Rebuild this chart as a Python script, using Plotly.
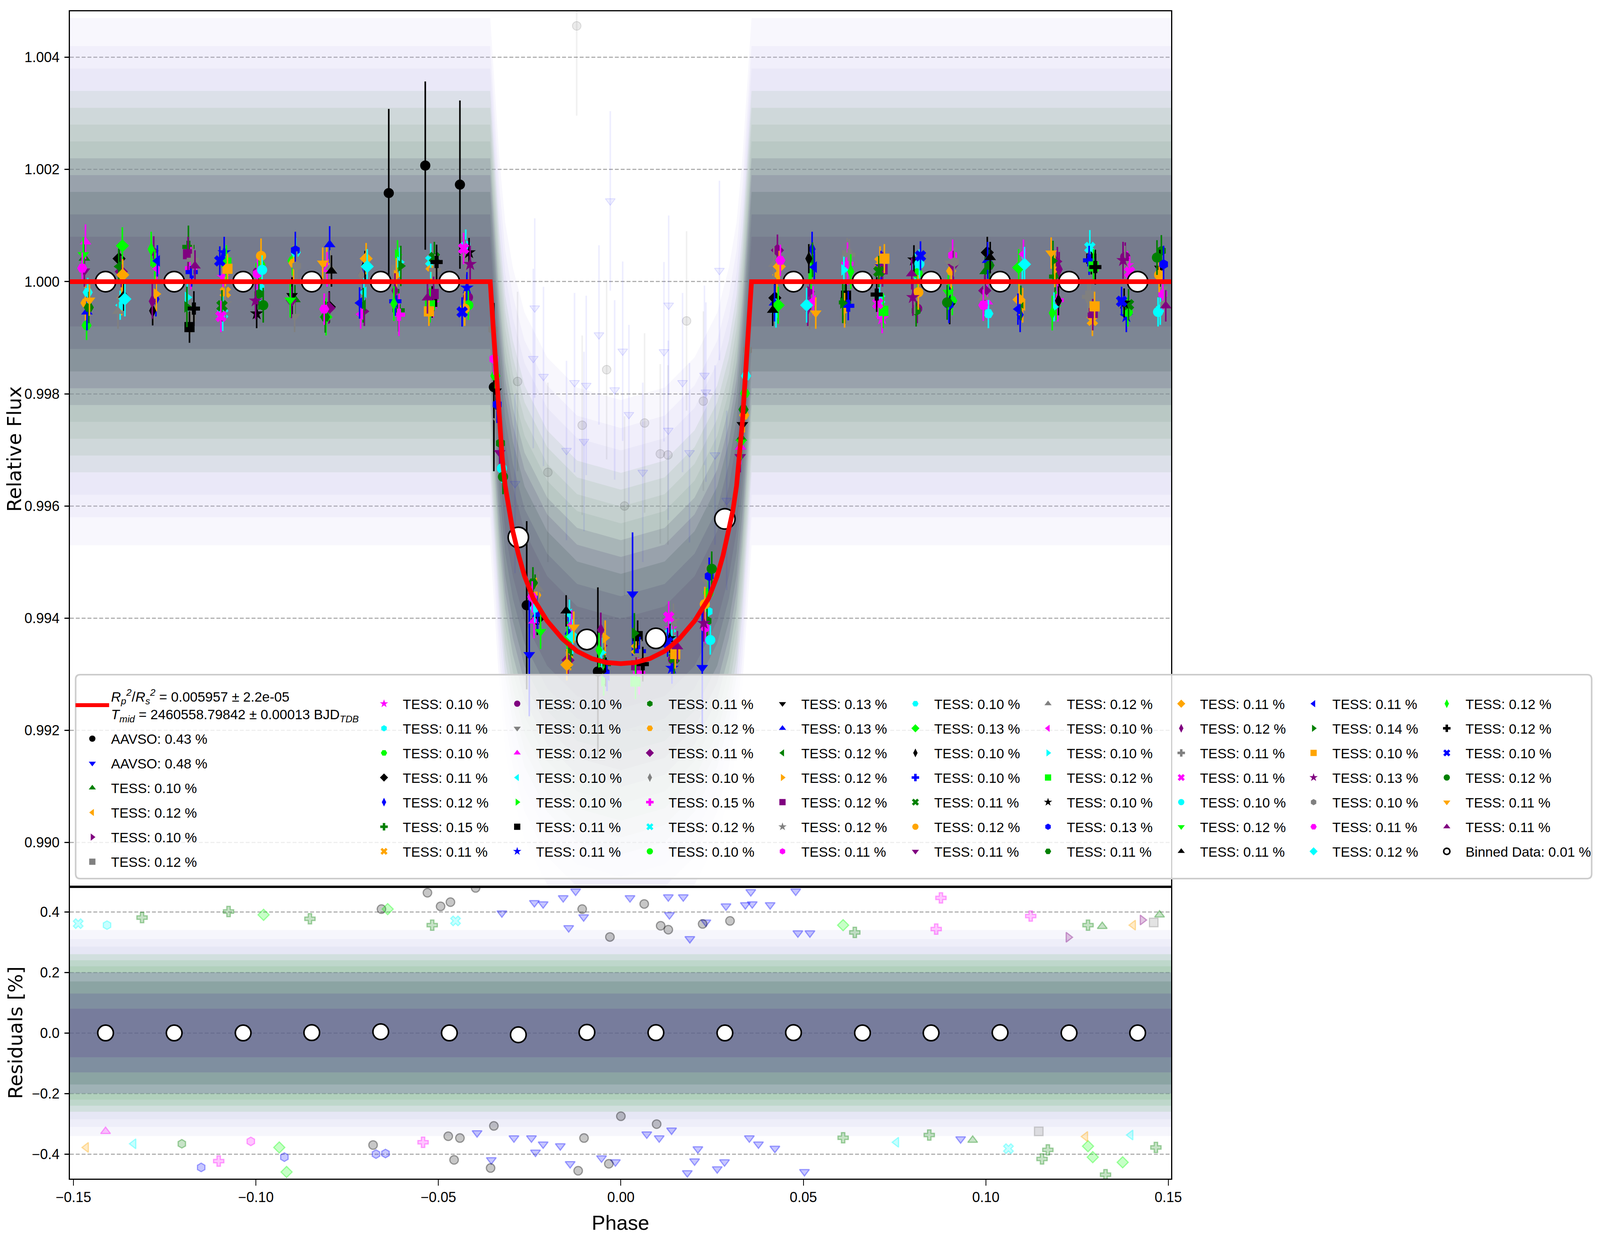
import plotly.graph_objects as go

# ---------------- data ----------------
MODEL_PHASE = [-0.151, -0.0358, -0.0352, -0.0346, -0.0340, -0.0333, -0.0325, -0.0317, -0.0307,
               -0.0296, -0.0280, -0.0264, -0.0240, -0.0202, -0.0160, -0.0120, -0.0080, -0.0040,
               0.0, 0.0040, 0.0080, 0.0120, 0.0160, 0.0202, 0.0240, 0.0264, 0.0280, 0.0296,
               0.0307, 0.0317, 0.0325, 0.0333, 0.0340, 0.0346, 0.0352, 0.0358, 0.151]
MODEL_FLUX = [1.0, 1.0, 0.9994, 0.9988, 0.9982, 0.9975, 0.99685, 0.99636, 0.99592,
              0.99555, 0.99512, 0.99475, 0.99435, 0.99395, 0.99363, 0.99341, 0.99328, 0.99321,
              0.99319, 0.99321, 0.99328, 0.99341, 0.99363, 0.99395, 0.99435, 0.99475, 0.99512, 0.99555,
              0.99592, 0.99636, 0.99685, 0.9975, 0.9982, 0.9988, 0.9994, 1.0, 1.0]

BIN_PHASE = [-0.1412, -0.1224, -0.1035, -0.0847, -0.0658, -0.0470, -0.0281, -0.0093,
             0.0096, 0.0285, 0.0473, 0.0662, 0.0850, 0.1039, 0.1228, 0.1416]
BIN_FLUX = [1.0, 1.0, 1.0, 1.0, 1.0, 1.0, 0.99544, 0.99362,
            0.99364, 0.99577, 1.0, 1.0, 1.0, 1.0, 1.0, 1.0]
BIN_RESID = [0.0, 0.0, 0.0, 0.001, 0.004, 0.0, -0.006, 0.002,
             0.001, 0.0, 0.001, 0.0, 0.0, 0.001, 0.0, 0.0]

FIT_LABEL = ("<i>R<sub>p</sub><sup>2</sup></i>/<i>R<sub>s</sub><sup>2</sup></i> = 0.005957 ± 2.2e-05<br>"
             "<i>T<sub>mid</sub></i> = 2460558.79842 ± 0.00013 BJD<sub><i>TDB</i></sub>")
BIN_LABEL = "Binned Data: 0.01 %"

AAVSO_LABELS = ["AAVSO: 0.43 %", "AAVSO: 0.48 %"]
AAVSO_PHASE = [[-0.0636, -0.0536, -0.0441, -0.0348, -0.0258, -0.0063],
               [-0.0251, 0.0032, 0.0223]]
AAVSO_FLUX = [[1.00158, 1.00207, 1.00173, 0.99812, 0.99423, 0.99305],
              [0.99335, 0.99443, 0.99312]]
AAVSO_ERR = [0.0015, 0.0011]

TESS_PREC = ["0.10", "0.12", "0.10", "0.12",
             "0.10", "0.11", "0.10", "0.11", "0.12", "0.15", "0.11",
             "0.10", "0.11", "0.12", "0.10", "0.10", "0.11", "0.11",
             "0.11", "0.12", "0.11", "0.10", "0.15", "0.12", "0.10",
             "0.13", "0.13", "0.12", "0.12", "0.12", "0.12", "0.11",
             "0.10", "0.13", "0.10", "0.10", "0.11", "0.12", "0.11",
             "0.12", "0.10", "0.10", "0.12", "0.10", "0.13", "0.11",
             "0.11", "0.12", "0.11", "0.11", "0.10", "0.12", "0.11",
             "0.11", "0.14", "0.10", "0.13", "0.10", "0.11", "0.12",
             "0.12", "0.12", "0.10", "0.12", "0.11", "0.11"]
TESS_ERR = [0.00026, 0.00031, 0.00026, 0.00031,
            0.00026, 0.00028, 0.00026, 0.00028, 0.00031, 0.00038, 0.00028,
            0.00026, 0.00028, 0.00031, 0.00026, 0.00026, 0.00028, 0.00028,
            0.00028, 0.00031, 0.00028, 0.00026, 0.00038, 0.00031, 0.00026,
            0.00033, 0.00033, 0.00031, 0.00031, 0.00031, 0.00031, 0.00028,
            0.00026, 0.00033, 0.00026, 0.00026, 0.00028, 0.00031, 0.00028,
            0.00031, 0.00026, 0.00026, 0.00031, 0.00026, 0.00033, 0.00028,
            0.00028, 0.00031, 0.00028, 0.00028, 0.00026, 0.00031, 0.00028,
            0.00028, 0.00036, 0.00026, 0.00033, 0.00026, 0.00028, 0.00031,
            0.00031, 0.00031, 0.00026, 0.00031, 0.00028, 0.00028]
TESS_PHASE = [
    [-0.1470, -0.0893, -0.0235, 0.0330, 0.0998],
    [-0.1368, -0.0806, -0.0138, 0.0428, 0.1101],
    [-0.1280, -0.0703, -0.0050, 0.0518, 0.1196],
    [-0.1179, -0.0615, 0.0049, 0.0620, 0.1286],
    [-0.1090, -0.0514, 0.0137, 0.0716, 0.1388],
    [-0.0989, -0.0425, 0.0239, 0.0806, 0.1478],
    [-0.0900, -0.0344, 0.0340, 0.0908, -0.1464],
    [-0.0799, -0.0229, 0.0422, 0.1004, -0.1375],
    [-0.0710, -0.0144, 0.0524, 0.1094, -0.1274],
    [-0.0609, -0.0044, 0.0614, 0.1190, -0.1185],
    [-0.0520, 0.0043, 0.0710, 0.1292, -0.1084],
    [-0.0419, 0.0143, 0.0812, 0.1382, -0.0995],
    [-0.0336, 0.0233, 0.0902, 0.1484, -0.0894],
    [-0.0238, 0.0328, 0.1004, -0.1467, -0.0805],
    [-0.0141, 0.0425, 0.1100, -0.1372, -0.0704],
    [-0.0047, 0.0521, 0.1193, -0.1277, -0.0612],
    [0.0046, 0.0617, 0.1289, -0.1182, -0.0517],
    [0.0140, 0.0713, 0.1385, -0.1087, -0.0422],
    [0.0236, 0.0809, 0.1481, -0.0992, -0.0330],
    [0.0338, 0.0905, -0.1467, -0.0897, -0.0232],
    [0.0429, 0.0997, -0.1369, -0.0800, -0.0145],
    [0.0517, 0.1093, -0.1281, -0.0711, -0.0051],
    [0.0621, 0.1197, -0.1178, -0.0608, 0.0050],
    [0.0709, 0.1285, -0.1091, -0.0521, 0.0136],
    [0.0813, 0.1389, -0.0988, -0.0418, 0.0240],
    [0.0901, 0.1477, -0.0901, -0.0342, 0.0333],
    [0.1005, -0.1463, -0.0798, -0.0228, 0.0421],
    [0.1096, -0.1376, -0.0706, -0.0138, 0.0525],
    [0.1189, -0.1273, -0.0615, -0.0043, 0.0613],
    [0.1293, -0.1186, -0.0513, 0.0042, 0.0717],
    [0.1381, -0.1083, -0.0426, 0.0144, 0.0805],
    [0.1485, -0.0996, -0.0348, 0.0232, 0.0909],
    [-0.1461, -0.0891, -0.0236, 0.0343, 0.1007],
    [-0.1366, -0.0808, -0.0147, 0.0431, 0.1090],
    [-0.1283, -0.0701, -0.0041, 0.0515, 0.1199],
    [-0.1176, -0.0618, 0.0052, 0.0623, 0.1283],
    [-0.1093, -0.0511, 0.0146, 0.0707, 0.1391],
    [-0.0986, -0.0428, 0.0230, 0.0815, 0.1475],
    [-0.0903, -0.0332, 0.0327, 0.0911, -0.1470],
    [-0.0796, -0.0226, 0.0419, 0.0995, -0.1378],
    [-0.0713, -0.0135, 0.0527, 0.1103, -0.1271],
    [-0.0606, -0.0053, 0.0611, 0.1187, -0.1188],
    [-0.0523, 0.0040, 0.0719, 0.1295, -0.1081],
    [-0.0416, 0.0134, 0.0803, 0.1379, -0.0998],
    [-0.0339, 0.0242, 0.0899, 0.1487, -0.0892],
    [-0.0241, 0.0336, 0.1010, -0.1458, -0.0810],
    [-0.0148, 0.0434, 0.1091, -0.1365, -0.0698],
    [-0.0055, 0.0512, 0.1201, -0.1284, -0.0619],
    [0.0055, 0.0626, 0.1280, -0.1173, -0.0509],
    [0.0131, 0.0704, 0.1394, -0.1096, -0.0431],
    [0.0245, 0.0818, 0.1472, -0.0983, -0.0326],
    [0.0330, 0.0897, -0.1473, -0.0906, -0.0220],
    [0.0416, 0.1012, -0.1362, -0.0793, -0.0150],
    [0.0530, 0.1088, -0.1270, -0.0716, -0.0038],
    [0.0608, 0.1184, -0.1189, -0.0603, 0.0037],
    [0.0722, 0.1298, -0.1078, -0.0526, 0.0149],
    [0.0800, 0.1376, -0.1001, -0.0413, 0.0227],
    [0.0914, 0.1490, -0.0888, -0.0351, 0.0347],
    [0.0993, -0.1476, -0.0813, -0.0243, 0.0437],
    [0.1106, -0.1359, -0.0695, -0.0132, 0.0509],
    [0.1182, -0.1287, -0.0622, -0.0060, 0.0630],
    [0.1300, -0.1170, -0.0505, 0.0060, 0.0701],
    [0.1372, -0.1099, -0.0435, 0.0128, 0.0821],
    [0.1469, -0.0980, -0.0323, 0.0249, 0.0894],
    [-0.1456, -0.0817, -0.0129, 0.0534, 0.1179],
    [-0.1167, -0.0530, 0.0155, 0.0797, 0.1493],
]
TESS_FLUX = [
    [1.00042, 0.99968, 0.99452, 0.99721, 1.00018],
    [0.99971, 1.00031, 0.99338, 1.00012, 0.99958],
    [1.00055, 0.99947, 0.99351, 0.99982, 1.00036],
    [0.99938, 1.00021, 0.99297, 1.00047, 0.99975],
    [1.00008, 0.99962, 0.99381, 0.99934, 1.00029],
    [0.99989, 1.00065, 0.99412, 1.00024, 0.99951],
    [1.00037, 0.99832, 0.99801, 0.99966, 0.99922],
    [0.99955, 0.99398, 0.99971, 1.00052, 1.00041],
    [1.00013, 0.99372, 1.00058, 0.99941, 0.99969],
    [0.99949, 0.99318, 0.99963, 1.00009, 1.00062],
    [1.00028, 0.99345, 1.00035, 0.99931, 0.99981],
    [0.99972, 0.99326, 0.99952, 1.00044, 1.00017],
    [0.99752, 0.99468, 1.00033, 0.99987, 0.99938],
    [0.99395, 0.99705, 0.99964, 1.00071, 1.00022],
    [0.99407, 0.99944, 1.00028, 0.99958, 0.99981],
    [0.99288, 1.00013, 0.99957, 1.00031, 1.00048],
    [0.99368, 0.99975, 1.00041, 0.99919, 0.99964],
    [0.99311, 1.00027, 0.99938, 1.00052, 0.99989],
    [0.99395, 0.99948, 1.00055, 0.99978, 0.99712],
    [0.99762, 1.00019, 0.99962, 1.00033, 0.99441],
    [1.00056, 0.99984, 1.00018, 0.99953, 0.99325],
    [0.99941, 1.00036, 0.99952, 1.00012, 0.99354],
    [1.00032, 0.99967, 1.00024, 0.99941, 0.99302],
    [0.99969, 1.00061, 0.99943, 1.00037, 0.99372],
    [1.00015, 0.99946, 1.00029, 0.99958, 0.99445],
    [0.99957, 1.00024, 0.99975, 0.99805, 0.99745],
    [1.00038, 0.99946, 1.00066, 0.99407, 0.99962],
    [0.99962, 1.00027, 0.99958, 0.99342, 1.00039],
    [1.00021, 0.99978, 1.00011, 0.99365, 0.99949],
    [0.99944, 1.00049, 0.99978, 0.99316, 1.00022],
    [1.00033, 0.99961, 1.00044, 0.99395, 0.99973],
    [0.99978, 1.00014, 0.99862, 0.99383, 1.00047],
    [0.99981, 1.00052, 0.99418, 0.99832, 0.99943],
    [1.00064, 0.99937, 0.99361, 0.99958, 1.00025],
    [0.99948, 1.00029, 0.99304, 1.00041, 0.99966],
    [1.00017, 0.99965, 0.99341, 0.99957, 1.00038],
    [0.99957, 1.00043, 0.99329, 1.00018, 0.99959],
    [1.00046, 0.99952, 0.99425, 0.99981, 1.00012],
    [0.99963, 0.99695, 0.99688, 1.00027, 1.00019],
    [1.00025, 0.99452, 1.00031, 0.99972, 0.99947],
    [0.99942, 0.99388, 0.99966, 1.00049, 1.00023],
    [1.00035, 0.99339, 1.00021, 0.99955, 0.99972],
    [0.99958, 0.99287, 0.99948, 1.00027, 1.00034],
    [1.00052, 0.99364, 1.00039, 0.99962, 0.99943],
    [0.99781, 0.99475, 0.99959, 1.00031, 1.00056],
    [0.99463, 0.99772, 1.00029, 0.99954, 0.99937],
    [0.99317, 1.00027, 0.99968, 1.00012, 1.00041],
    [0.99379, 0.99952, 1.00022, 0.99965, 0.99984],
    [0.99334, 1.00048, 0.99973, 1.00039, 1.00021],
    [0.99402, 0.99961, 1.00017, 0.99938, 1.00059],
    [0.99361, 1.00032, 0.99946, 1.00021, 0.99667],
    [0.99714, 0.99981, 1.00048, 0.99967, 0.99376],
    [0.99949, 1.00043, 0.99976, 1.00019, 0.99413],
    [1.00026, 0.99951, 1.00037, 0.99962, 0.99298],
    [0.99962, 1.00037, 0.99955, 1.00028, 0.99373],
    [1.00041, 0.99956, 1.00023, 0.99947, 0.99336],
    [0.99972, 1.00038, 0.99966, 1.00031, 0.99391],
    [1.00035, 0.99959, 1.00028, 0.99915, 0.99878],
    [0.99958, 1.00024, 0.99951, 0.99438, 1.00038],
    [1.00031, 0.99969, 1.00027, 0.99367, 0.99958],
    [0.99944, 1.00058, 0.99961, 0.99343, 1.00018],
    [1.00026, 0.99952, 1.00035, 0.99318, 0.99977],
    [0.99965, 1.00037, 0.99946, 0.99357, 1.00046],
    [1.00043, 0.99958, 0.99652, 0.99488, 0.99963],
    [0.99967, 1.00033, 0.99384, 0.99944, 1.00051],
    [1.00028, 0.99971, 0.99349, 1.00014, 0.99957],
]

# faint unbinned AAVSO points visible above the transit
RAW_A1_PHASE = [-0.0039, -0.0283, 0.0065, -0.0106, 0.0226, 0.0108, 0.0129, -0.0121, -0.0200, 0.0180, 0.0010]
RAW_A1_FLUX = [0.99843, 0.99822, 0.99748, 0.99744, 0.99787, 0.99693, 0.99691, 1.00456, 0.99660, 0.99930, 0.99600]
RAW_A2_PHASE = [-0.0240, -0.0212, -0.0127, -0.0095, -0.0017, 0.0022, 0.0130, 0.0169, 0.0233, 0.0188, 0.0258,
                -0.0149, -0.0101, 0.0118, 0.0131, -0.0029, 0.0005, -0.0236, 0.0229, 0.0290, -0.0290,
                0.0060, -0.0060, 0.0270]
RAW_A2_FLUX = [0.99863, 0.99831, 0.99820, 0.99815, 0.99807, 0.99763, 0.99735, 0.99820, 0.99803, 0.99695, 0.99691,
               0.99699, 0.99715, 0.99875, 0.99958, 1.00144, 0.99876, 0.99953, 0.99833, 0.99610, 0.99640,
               0.99660, 0.99905, 1.00020]
RAW_ERR = 0.0016

# dense cloud of unbinned points (top panel): centre line and scatter widths
BAND_X = [-0.151, -0.0358, -0.0346, -0.0333, -0.0317, -0.0296, -0.0264, -0.0202, -0.0120, 0.0,
          0.0120, 0.0202, 0.0264, 0.0296, 0.0317, 0.0333, 0.0346, 0.0358, 0.151]
BAND_CENTER = [1.0, 1.0, 0.9988, 0.9975, 0.99636, 0.99555, 0.99475, 0.99395, 0.99341, 0.99319,
               0.99341, 0.99395, 0.99475, 0.99555, 0.99636, 0.9975, 0.9988, 1.0, 1.0]
CLOUD_SPREAD = [0.0047, 0.0042, 0.0038, 0.0034, 0.0031, 0.0028, 0.0025, 0.0022, 0.0019, 0.0016,
                0.0012, 0.0008]

# residual cloud (percent)
RES_X = [-0.151, 0.151]
RES_CENTER = [0.0, 0.0]
RES_SPREAD = [0.34, 0.31, 0.285, 0.26, 0.24, 0.22, 0.20, 0.17, 0.13, 0.08]

# isolated residual points outside the dense band
RES_PT_PHASE = [
    -0.1487, -0.1408, -0.1312, -0.1075, -0.0979, -0.0852, -0.0656, -0.0639, -0.0530, -0.0494,
    -0.0453, -0.0517, -0.1465, -0.1412, -0.1335, -0.1203, -0.1150, -0.1102, -0.1014, -0.0936,
    -0.0922, -0.0916, -0.0679, -0.0671, -0.0645, -0.0542,
    -0.0124, -0.0237, -0.0213, -0.0158, -0.0326, -0.0143, -0.0102, 0.0025, 0.0130, 0.0171,
    0.0133, 0.0288, 0.0341, 0.0360, 0.0409, 0.0356, 0.0479, 0.0485, 0.0518, 0.0189, 0.0233,
    -0.0394, -0.0293, -0.0245, -0.0234, -0.0213, -0.0166, -0.0355, -0.0139, -0.0053, -0.0015,
    0.0071, 0.0105, 0.0139, 0.0211, 0.0202, 0.0264, 0.0284, 0.0352, 0.0377, 0.0422, 0.0503, 0.0182,
    -0.0467, -0.0398, -0.0106, 0.0064, 0.0109, 0.0130, 0.0224, 0.0299, -0.0030,
    -0.0348, -0.0473, -0.0441, -0.0457, -0.0357, -0.0033, -0.0117, -0.0101, 0.0000, 0.0098,
    0.0877, 0.1123, 0.0864, 0.0609, 0.0641, 0.1476, 0.1429, 0.1460, 0.1404, 0.1226,
    0.1280, 0.1319, 0.1154, 0.1170, 0.1293, 0.1375, 0.1328, 0.1280, 0.1466, 0.1062,
    0.0755, 0.0845, 0.0609, 0.0964, 0.1273, 0.1145, 0.1397, 0.0931]
RES_PT_VALUE = [
    0.361, 0.356, 0.381, 0.401, 0.390, 0.377, 0.409, 0.409, 0.463, 0.418,
    0.370, 0.356, -0.378, -0.325, -0.366, -0.366, -0.444, -0.423, -0.358, -0.378,
    -0.410, -0.459, -0.370, -0.400, -0.398, -0.361,
    0.468, 0.430, 0.426, 0.446, 0.396, 0.347, 0.383, 0.446, 0.449, 0.449,
    0.390, 0.419, 0.423, 0.426, 0.423, 0.466, 0.468, 0.330, 0.330, 0.311, 0.366,
    -0.330, -0.347, -0.347, -0.394, -0.367, -0.373, -0.419, -0.432, -0.413, -0.426,
    -0.334, -0.347, -0.321, -0.383, -0.423, -0.449, -0.426, -0.347, -0.367, -0.381, -0.458, -0.462,
    0.432, 0.479, 0.409, 0.426, 0.354, 0.341, 0.360, 0.370, 0.317,
    -0.307, -0.341, -0.347, -0.419, -0.446, -0.432, -0.455, -0.347, -0.275, -0.301,
    0.446, 0.386, 0.343, 0.356, 0.332, 0.390, 0.373, 0.365, 0.356, 0.316,
    0.356, 0.352, -0.416, -0.386, -0.410, -0.427, -0.468, -0.374, -0.378, -0.382,
    -0.361, -0.337, -0.346, -0.354, -0.342, -0.325, -0.337, -0.350]
RES_PT_SET = [
    25, 7, 11, 11, 35, 11, 0, 35, 0, 0,
    25, 11, 3, 15, 16, 20, 46, 24, 33, 35,
    46, 35, 0, 46, 46, 24,
    1, 1, 1, 1, 1, 1, 1, 1, 1, 1,
    1, 1, 1, 1, 1, 1, 1, 1, 1, 1, 1,
    1, 1, 1, 1, 1, 1, 1, 1, 1, 1,
    1, 1, 1, 1, 1, 1, 1, 1, 1, 1, 1, 1,
    0, 0, 0, 0, 0, 0, 0, 0, 0,
    0, 0, 0, 0, 0, 0, 0, 0, 0, 0,
    24, 24, 24, 35, 11, 2, 4, 5, 3, 4,
    11, 2, 11, 11, 35, 35, 11, 35, 11, 25,
    16, 11, 11, 2, 3, 5, 16, 1]

# ---------------- styles / geometry ----------------
COLOR_CYCLE = [(0, 0, 0), (0, 0, 255), (0, 128, 0), (255, 165, 0), (128, 0, 128),
               (128, 128, 128), (255, 0, 255), (0, 255, 255), (0, 255, 0)]
SYMBOL_CYCLE = ['circle', 'triangle-down', 'triangle-up', 'triangle-left', 'triangle-right', 'square',
                'star', 'hexagon', 'hexagon2', 'diamond', 'diamond-tall', 'cross', 'x']
CLOUD_COLORS = ['rgba(195,185,238,0.11)', 'rgba(190,180,235,0.11)', 'rgba(180,185,225,0.11)',
                'rgba(135,170,135,0.13)', 'rgba(120,160,125,0.13)', 'rgba(120,155,130,0.13)',
                'rgba(115,145,130,0.13)', 'rgba(95,95,125,0.18)', 'rgba(90,80,125,0.19)',
                'rgba(70,95,95,0.20)', 'rgba(85,80,120,0.20)', 'rgba(90,80,110,0.18)']
RES_COLORS = ['rgba(185,185,232,0.12)', 'rgba(180,185,228,0.12)', 'rgba(170,180,220,0.12)',
              'rgba(105,185,115,0.17)', 'rgba(100,180,110,0.17)', 'rgba(110,175,120,0.17)',
              'rgba(90,60,160,0.20)', 'rgba(60,110,90,0.20)', 'rgba(80,60,150,0.20)',
              'rgba(90,50,140,0.20)']

SANS = "Liberation Sans, Arial, sans-serif"
REGULAR = "DejaVu Sans"

REF_W, REF_H = 5754, 3192          # reference picture
SCR_W, SCR_H = 4096, 3192          # browser viewport
OFF = 8                            # body margin of the page
FW, FH = SCR_W - 2 * OFF, SCR_H - 2 * OFF
SX = SCR_W / REF_W


def pxx(ref_x):
    return (ref_x * SX - OFF) / FW


def pxy(ref_y):
    return 1 - (ref_y - OFF) / FH


def rgb(c, a=1.0):
    return f"rgba({c[0]},{c[1]},{c[2]},{a})"


LEG_FONT = 35
LEG_MARK_REF = [332, 1381, 1860, 2337, 2814, 3292, 3769, 4248, 4724, 5203]
LEG_TOP_FIG = [1745] + [1764] * 9
MARK_OFF = 48
ITEMW = 2 * MARK_OFF - 10
ROW_GAP = 63 - (LEG_FONT * 1.3 + 3)


def leg_name(col):
    return "legend" if col == 0 else f"legend{col + 1}"


fig = go.Figure()


def band(xs, center, w, color, xa, ya):
    hi = [c + w for c in center]
    lo = [c - w for c in center]
    fig.add_trace(go.Scatter(x=list(xs) + list(xs)[::-1], y=hi + lo[::-1],
                             fill='toself', fillcolor=color, line=dict(width=0),
                             mode='lines', showlegend=False, hoverinfo='skip', xaxis=xa, yaxis=ya))


# top panel cloud
for w, col in zip(CLOUD_SPREAD, CLOUD_COLORS):
    band(BAND_X, BAND_CENTER, w, col, 'x', 'y')

# faint raw AAVSO points
fig.add_trace(go.Scatter(x=RAW_A1_PHASE, y=RAW_A1_FLUX, mode='markers',
                         marker=dict(symbol='circle', size=22, color='rgba(0,0,0,0.08)',
                                     line=dict(color='rgba(0,0,0,0.12)', width=2)),
                         error_y=dict(type='constant', value=RAW_ERR, color='rgba(0,0,0,0.06)',
                                      thickness=4, width=0),
                         showlegend=False, hoverinfo='skip', xaxis='x', yaxis='y'))
fig.add_trace(go.Scatter(x=RAW_A2_PHASE, y=RAW_A2_FLUX, mode='markers',
                         marker=dict(symbol='triangle-down', size=22, color='rgba(0,0,255,0.06)',
                                     line=dict(color='rgba(0,0,255,0.12)', width=2)),
                         error_y=dict(type='constant', value=RAW_ERR, color='rgba(0,0,255,0.07)',
                                      thickness=4, width=0),
                         showlegend=False, hoverinfo='skip', xaxis='x', yaxis='y'))

# residual panel cloud
for w, col in zip(RES_SPREAD, RES_COLORS):
    band(RES_X, RES_CENTER, w, col, 'x2', 'y2')

fig.add_trace(go.Scatter(
    x=RES_PT_PHASE, y=RES_PT_VALUE, mode='markers',
    marker=dict(symbol=[SYMBOL_CYCLE[s % 13] for s in RES_PT_SET], size=22,
                color=[rgb(COLOR_CYCLE[s % 9], 0.22) for s in RES_PT_SET],
                line=dict(color=[rgb(COLOR_CYCLE[s % 9], 0.35) for s in RES_PT_SET], width=3)),
    showlegend=False, hoverinfo='skip', xaxis='x2', yaxis='y2'))

# per-dataset binned points
labels = AAVSO_LABELS + [f"TESS: {p} %" for p in TESS_PREC]
phases = AAVSO_PHASE + TESS_PHASE
fluxes = AAVSO_FLUX + TESS_FLUX
errs = AAVSO_ERR + TESS_ERR
for i, (lab, ph, fl, er) in enumerate(zip(labels, phases, fluxes, errs)):
    col = (i + 1) // 7
    c = COLOR_CYCLE[i % 9]
    fig.add_trace(go.Scatter(
        x=ph, y=fl, mode='markers', name=lab,
        marker=dict(symbol=SYMBOL_CYCLE[i % 13], size=26, color=rgb(c), line=dict(width=0)),
        error_y=dict(type='constant', value=er, color=rgb(c), thickness=4, width=0),
        legend=leg_name(col), legendgroup=f"g{i}", legendrank=100 + i,
        xaxis='x', yaxis='y'))

# binned data (white circles)
fig.add_trace(go.Scatter(x=BIN_PHASE, y=BIN_FLUX, mode='markers', name=BIN_LABEL,
                         marker=dict(symbol='circle', size=52, color='white', line=dict(color='black', width=4)),
                         legend=leg_name(9), legendgroup="gbin", legendrank=1000,
                         xaxis='x', yaxis='y'))
fig.add_trace(go.Scatter(x=BIN_PHASE, y=BIN_RESID, mode='markers', showlegend=False,
                         marker=dict(symbol='circle', size=40, color='white', line=dict(color='black', width=4)),
                         xaxis='x2', yaxis='y2'))

# transit model
fig.add_trace(go.Scatter(x=MODEL_PHASE, y=MODEL_FLUX, mode='lines', name=FIT_LABEL,
                         line=dict(color='red', width=12),
                         legend=leg_name(0), legendgroup="gfit", legendrank=1,
                         xaxis='x', yaxis='y'))

# ---------------- layout ----------------
XDOM = [pxx(251), pxx(4212)]
Y1DOM = [pxy(2270), pxy(29)]
Y2DOM = [pxy(3017), pxy(2270)]
XR = [-0.151, 0.1508]

axis_common = dict(showline=True, linecolor='black', linewidth=3, mirror=True, zeroline=False,
                   tickfont=dict(family=SANS, size=36, color='black'), tickcolor='black')
grid = dict(showgrid=True, gridcolor='#b0b0b0', gridwidth=3, griddash='10px,5px')

fig.update_layout(
    width=FW, height=FH, margin=dict(l=0, r=0, t=0, b=0, autoexpand=False),
    paper_bgcolor='white', plot_bgcolor='white',
    font=dict(family=SANS, size=36, color='black'),
    xaxis=dict(domain=XDOM, range=XR, anchor='y', showticklabels=False, ticks='', showgrid=False,
               **axis_common),
    yaxis=dict(domain=Y1DOM, range=[0.98921, 1.00482], anchor='x',
               tickvals=[0.990, 0.992, 0.994, 0.996, 0.998, 1.000, 1.002, 1.004], tickformat='.3f',
               ticks='outside', ticklen=11, tickwidth=3, ticklabelstandoff=5,
               title=dict(text='Relative Flux', font=dict(family=REGULAR, size=50), standoff=3),
               **grid, **axis_common),
    xaxis2=dict(domain=XDOM, range=XR, anchor='y2',
                tickvals=[-0.15, -0.10, -0.05, 0.0, 0.05, 0.10, 0.15], tickformat='.2f',
                ticks='outside', ticklen=15, tickwidth=2, ticklabelstandoff=-1, showgrid=False,
                title=dict(text='Phase', font=dict(family=SANS, size=52), standoff=28),
                **axis_common),
    yaxis2=dict(domain=Y2DOM, range=[-0.481, 0.4826], anchor='x2',
                tickvals=[-0.4, -0.2, 0.0, 0.2, 0.4], tickformat='.1f',
                ticks='outside', ticklen=11, tickwidth=3, ticklabelstandoff=5,
                title=dict(text='Residuals [%]', font=dict(family=REGULAR, size=50), standoff=8),
                **grid, **axis_common),
)

for col in range(10):
    fig.update_layout(**{leg_name(col): dict(
        x=(LEG_MARK_REF[col] * SX - OFF - MARK_OFF) / FW, y=1 - LEG_TOP_FIG[col] / FH,
        xanchor='left', yanchor='top',
        bgcolor='rgba(0,0,0,0)', borderwidth=0, itemwidth=ITEMW, tracegroupgap=ROW_GAP,
        traceorder='grouped', font=dict(family=SANS, size=LEG_FONT, color='black'))})

# legend frame (rounded, semi-opaque white, as in the reference)
bx0, bx1, by0, by1 = 272 * SX - OFF, 5724 * SX - OFF, 1727 - OFF, 2249 - OFF
r = 12


def pp(x, y):
    return f"{x / FW:.6f},{1 - y / FH:.6f}"


path = (f"M{pp(bx0 + r, by0)} L{pp(bx1 - r, by0)} Q{pp(bx1, by0)} {pp(bx1, by0 + r)} "
        f"L{pp(bx1, by1 - r)} Q{pp(bx1, by1)} {pp(bx1 - r, by1)} L{pp(bx0 + r, by1)} "
        f"Q{pp(bx0, by1)} {pp(bx0, by1 - r)} L{pp(bx0, by0 + r)} Q{pp(bx0, by0)} {pp(bx0 + r, by0)} Z")
fig.add_shape(type='path', path=path, xref='paper', yref='paper', layer='above',
              fillcolor='rgba(255,255,255,0.8)', line=dict(color='#cccccc', width=4))

fig.write_html("out.html")
